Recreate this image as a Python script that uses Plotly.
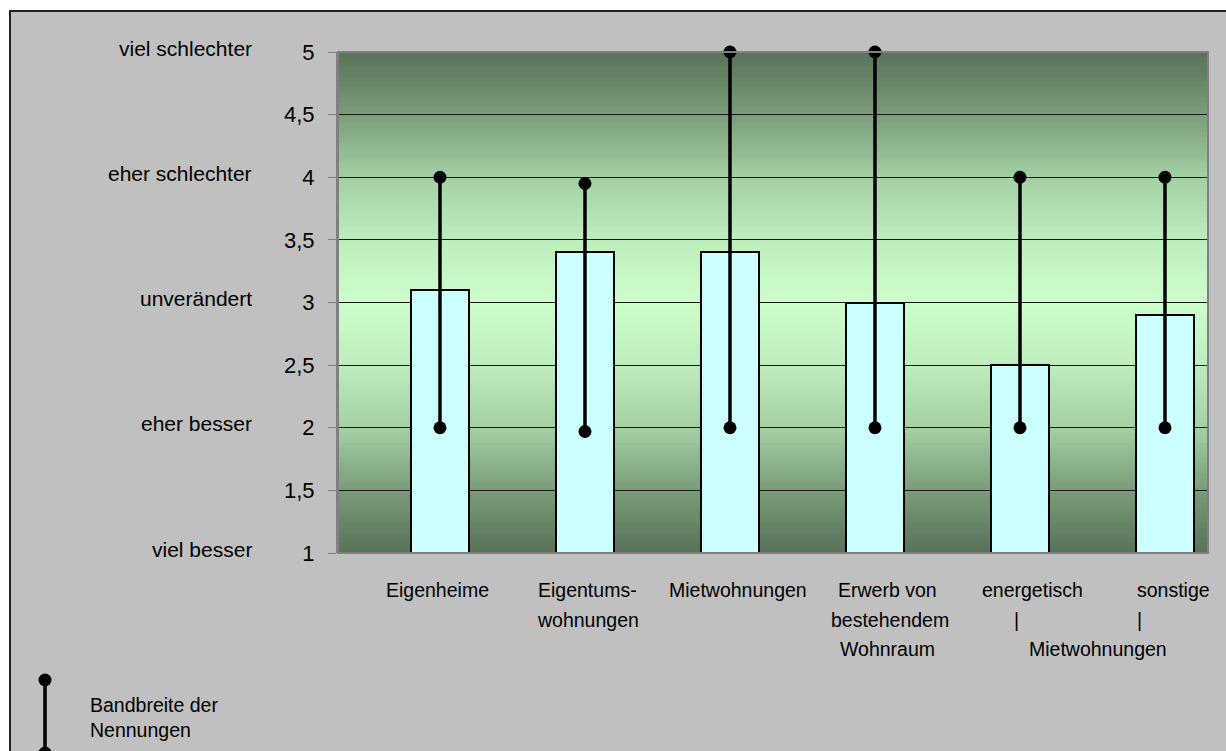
import plotly.graph_objects as go

# ---- data -------------------------------------------------------------
categories = ["Eigenheime", "Eigentumswohnungen", "Mietwohnungen",
              "Erwerb von bestehendem Wohnraum", "energetisch", "sonstige"]
category_lines = [
    ["Eigenheime"],
    ["Eigentums-", "wohnungen"],
    ["Mietwohnungen"],
    ["Erwerb von", "bestehendem", "Wohnraum"],
    ["energetisch", "|"],
    ["sonstige", "|"],
]
group_label = "Mietwohnungen"          # shared third line under the last two
mean_values = [3.1, 3.4, 3.4, 3.0, 2.5, 2.9]
range_low = [2, 1.97, 2, 2, 2, 2]
range_high = [4, 3.95, 5, 5, 4, 4]
tick_values = [1, 1.5, 2, 2.5, 3, 3.5, 4, 4.5, 5]
tick_labels = ["1", "1,5", "2", "2,5", "3", "3,5", "4", "4,5", "5"]
scale_values = [5, 4, 3, 2, 1]
scale_labels = ["viel schlechter", "eher schlechter", "unverändert",
                "eher besser", "viel besser"]
legend_label = "Bandbreite der<br>Nennungen"

# ---- geometry / style --------------------------------------------------
W, H = 1226, 751
PLOT_L, PLOT_R, PLOT_T, PLOT_B = 338, 1208, 52, 553
FONT = "Liberation Sans, Arial, sans-serif"
px = lambda x: x / W
py = lambda y: 1 - y / H

x_pos = list(range(len(categories)))
x_range = [-0.7034, 5.2966]

# horizontal fine-tuning of label lines (pixels)
line_shift = [[-2], [3, 3], [8], [13, 15, 13], [13, -3], [9, -25]]
line_y = [590, 620, 649]

fig = go.Figure()

# mean bars
fig.add_trace(go.Bar(
    x=x_pos, y=mean_values, base=0, width=0.4,
    marker=dict(color="#CCFFFF", line=dict(color="black", width=2)),
    showlegend=False, hoverinfo="skip",
))

# range of answers: vertical line with dots at both ends
rx, ry = [], []
for x, lo, hi in zip(x_pos, range_low, range_high):
    rx += [x, x, None]
    ry += [lo, hi, None]
fig.add_trace(go.Scatter(
    x=rx, y=ry, mode="lines+markers",
    line=dict(color="black", width=3.5),
    marker=dict(color="black", size=13),
    cliponaxis=False, showlegend=False, hoverinfo="skip",
))

shapes = []
# outer grey chart frame
shapes.append(dict(type="rect", xref="paper", yref="paper", layer="below",
                   x0=px(10), x1=px(W + 20), y0=py(H + 20), y1=py(11),
                   fillcolor="#C0C0C0", line=dict(color="#222222", width=2)))

# vertical green gradient of the plot area
stops = [(1.0, (88, 114, 88)), (1.5, (122, 156, 122)), (2.0, (164, 208, 164)),
         (2.5, (190, 236, 190)), (3.0, (204, 255, 204)), (3.5, (190, 236, 190)),
         (4.0, (164, 208, 164)), (4.5, (122, 156, 122)), (5.0, (88, 114, 88))]


def grad(v):
    for (a, ca), (b, cb) in zip(stops[:-1], stops[1:]):
        if a <= v <= b:
            t = (v - a) / (b - a)
            c = [round(ca[i] + (cb[i] - ca[i]) * t) for i in range(3)]
            return "rgb({},{},{})".format(*c)
    return "rgb({},{},{})".format(*stops[-1][1])


n_bands = 100
step = 4 / n_bands
for i in range(n_bands):
    y0 = 1 + i * step
    shapes.append(dict(type="rect", xref="x domain", yref="y", layer="below",
                       x0=0, x1=1, y0=y0, y1=min(5, y0 + step * 1.2),
                       fillcolor=grad(y0 + step / 2), line=dict(width=0)))

# plot-area border (top, right, bottom)
shapes.append(dict(type="rect", xref="paper", yref="paper", layer="above",
                   x0=px(PLOT_L), x1=px(PLOT_R), y0=py(PLOT_B), y1=py(PLOT_T),
                   fillcolor="rgba(0,0,0,0)", line=dict(color="#808080", width=2)))

# legend glyph
lx = px(45)
shapes.append(dict(type="line", xref="paper", yref="paper",
                   x0=lx, x1=lx, y0=py(680), y1=py(753),
                   line=dict(color="black", width=3.5)))
for cy in (680, 753):
    shapes.append(dict(type="circle", xref="paper", yref="paper",
                       xsizemode="pixel", ysizemode="pixel",
                       xanchor=lx, yanchor=py(cy), x0=-6.5, x1=6.5, y0=-6.5, y1=6.5,
                       fillcolor="black", line=dict(width=0)))

annotations = []
# scale wording left of the axis
for v, t in zip(scale_values, scale_labels):
    annotations.append(dict(xref="paper", yref="y", x=px(254), y=v, yshift=4,
                            text=t, showarrow=False, xanchor="right", yanchor="middle",
                            font=dict(family=FONT, size=21, color="black")))

# category labels under the bars
for x, lines, shifts in zip(x_pos, category_lines, line_shift):
    for k, (t, s) in enumerate(zip(lines, shifts)):
        annotations.append(dict(xref="x", yref="paper", x=x, y=py(line_y[k]),
                                xshift=s, text=t, showarrow=False,
                                xanchor="center", yanchor="middle",
                                font=dict(family=FONT, size=19.5, color="black")))
annotations.append(dict(xref="x", yref="paper", x=4.5, y=py(line_y[2]), xshift=6,
                        text=group_label, showarrow=False, xanchor="center",
                        yanchor="middle",
                        font=dict(family=FONT, size=19.5, color="black")))

# legend text
annotations.append(dict(xref="paper", yref="paper", x=px(88), y=py(717), text=legend_label,
                        showarrow=False, xanchor="left", yanchor="middle", align="left",
                        font=dict(family=FONT, size=19.5, color="black")))

fig.update_layout(
    width=W, height=H,
    autosize=False,
    margin=dict(l=0, r=0, t=0, b=0, pad=0, autoexpand=False),
    paper_bgcolor="white",
    plot_bgcolor="#C0C0C0",
    font=dict(family=FONT, color="black"),
    showlegend=False,
    bargap=0,
    xaxis=dict(domain=[px(PLOT_L), px(PLOT_R)], range=x_range,
               showticklabels=False, showgrid=False, zeroline=False,
               ticks="", showline=False, fixedrange=True, automargin=False),
    yaxis=dict(domain=[py(PLOT_B), py(PLOT_T)], range=[1, 5],
               tickvals=tick_values, ticktext=tick_labels,
               tickfont=dict(family=FONT, size=22, color="black"),
               ticks="outside", ticklen=8, tickcolor="#808080", tickwidth=1,
               ticklabelstandoff=9,
               showline=True, linecolor="#808080", linewidth=2,
               showgrid=True, gridcolor="#1a1a1a", gridwidth=1,
               zeroline=False, fixedrange=True, automargin=False),
    shapes=shapes,
    annotations=annotations,
)

fig.write_html("out.html", config={"displayModeBar": False})
